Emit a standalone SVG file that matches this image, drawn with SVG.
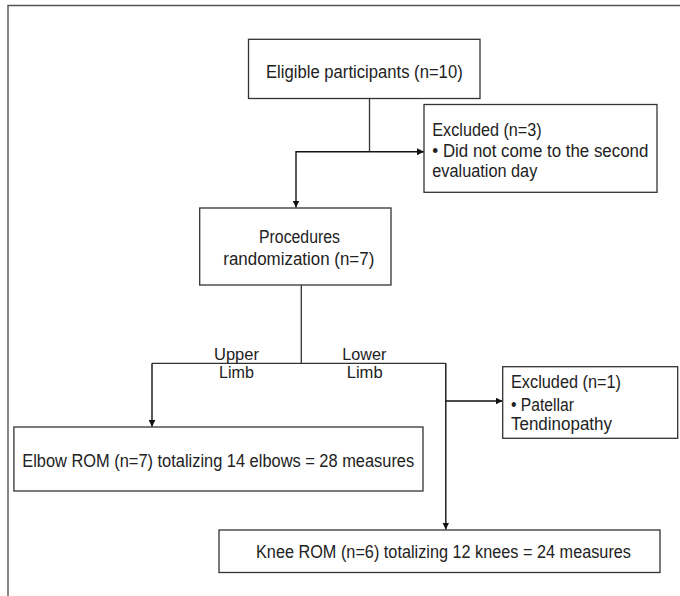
<svg xmlns="http://www.w3.org/2000/svg" width="680" height="596" viewBox="0 0 680 596">
<defs>
<marker id="ah" viewBox="0 0 10 10" refX="10" refY="5" markerWidth="7" markerHeight="7" markerUnits="userSpaceOnUse" orient="auto">
<path d="M0,0 L10,5 L0,10 z" fill="#111"/>
</marker>
</defs>
<style>
.box{fill:#fff;stroke:#333;stroke-width:1.3}
.t{font-family:"Liberation Sans",Arial,sans-serif;font-size:17.5px;fill:#222}
.s{font-size:16.5px}
.ln{fill:none;stroke:#333;stroke-width:1.3}
.ar{fill:none;stroke:#111;stroke-width:1.4;marker-end:url(#ah)}
</style>
<rect width="680" height="596" fill="#fff"/>
<path d="M8,596 V5.5 H680" fill="none" stroke="#555" stroke-width="1.4"/>
<g id="connectors">
<path class="ln" d="M369.5,98.5 V151.7"/>
<path class="ar" d="M369.5,151.7 H424"/>
<path class="ar" d="M369.5,151.7 H296 V207.5"/>
<path class="ln" d="M301.3,285 V363.3"/>
<path class="ln" d="M152,363.3 H445.8"/>
<path class="ar" d="M152,363.3 V426.8"/>
<path class="ar" d="M445.8,363.3 V529.5"/>
<path class="ar" d="M445.8,401 H502.5"/>
</g>
<g id="eligible">
<rect class="box" x="248.5" y="39.3" width="231.5" height="59.2"/>
<text class="t" x="266" y="77.7" textLength="196.7" lengthAdjust="spacingAndGlyphs">Eligible participants (n=10)</text>
</g>
<g id="excluded1">
<rect class="box" x="424" y="104.5" width="233" height="87.8"/>
<text class="t" x="432.3" y="136" textLength="109.4" lengthAdjust="spacingAndGlyphs">Excluded (n=3)</text>
<text class="t" x="432.3" y="156.5" textLength="216" lengthAdjust="spacingAndGlyphs">• Did not come to the second</text>
<text class="t" x="432.3" y="177" textLength="105" lengthAdjust="spacingAndGlyphs">evaluation day</text>
</g>
<g id="procedures">
<rect class="box" x="199.7" y="208" width="191.3" height="77"/>
<text class="t" x="259" y="243" textLength="81" lengthAdjust="spacingAndGlyphs">Procedures</text>
<text class="t" x="223.3" y="265" textLength="151" lengthAdjust="spacingAndGlyphs">randomization (n=7)</text>
</g>
<g id="labels">
<text class="t s" x="214" y="359.5" textLength="45" lengthAdjust="spacingAndGlyphs">Upper</text>
<text class="t s" x="219" y="378" textLength="35" lengthAdjust="spacingAndGlyphs">Limb</text>
<text class="t s" x="342.3" y="359.5" textLength="44" lengthAdjust="spacingAndGlyphs">Lower</text>
<text class="t s" x="346.7" y="378" textLength="36" lengthAdjust="spacingAndGlyphs">Limb</text>
</g>
<g id="excluded2">
<rect class="box" x="502.7" y="366.7" width="175" height="71.6"/>
<text class="t" x="511" y="388.3" textLength="110" lengthAdjust="spacingAndGlyphs">Excluded (n=1)</text>
<text class="t" x="511" y="410.5" textLength="63" lengthAdjust="spacingAndGlyphs">• Patellar</text>
<text class="t" x="511" y="430" textLength="101" lengthAdjust="spacingAndGlyphs">Tendinopathy</text>
</g>
<g id="elbow">
<rect class="box" x="13.9" y="427" width="409.1" height="64"/>
<text class="t" x="22.2" y="466.7" textLength="392" lengthAdjust="spacingAndGlyphs">Elbow ROM (n=7) totalizing 14 elbows = 28 measures</text>
</g>
<g id="knee">
<rect class="box" x="219" y="530" width="441" height="42.5"/>
<text class="t" x="256" y="558" textLength="375" lengthAdjust="spacingAndGlyphs">Knee ROM (n=6) totalizing 12 knees = 24 measures</text>
</g>
</svg>
